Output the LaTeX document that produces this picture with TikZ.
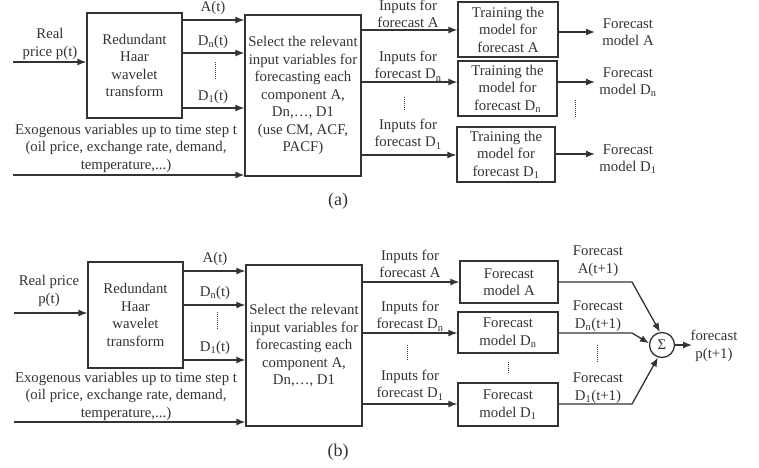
\documentclass[tikz,border=0pt]{standalone}
\usepackage{fontspec}
\setmainfont{Liberation Serif}
\usetikzlibrary{arrows.meta}
\definecolor{ink}{HTML}{333333}
\newcommand{\myfont}{\fontsize{14.8}{17.5}\selectfont}
\newcommand{\lowsub}[1]{\textsubscript{#1}}
\begin{document}
\begin{tikzpicture}[x=1pt,y=-1pt,
  conn/.style={draw=ink, line width=1.3pt},
  arr/.style={conn, -{Latex[length=9pt,width=7pt]}},
  box/.style={draw=ink, line width=1.3pt, align=center, inner sep=0pt, text=ink, font=\myfont},
  lbl/.style={align=center, inner sep=0pt, text=ink, font=\myfont},
  captext/.style={inner sep=0pt, text=ink, font=\fontsize{18}{21}\selectfont},
  vdots/.style={draw=ink, line width=1pt, dash pattern=on 1pt off 1pt}]
\useasboundingbox (0,0) rectangle (759,467);

% ================= (a) =================
\node[box, minimum width=95pt, minimum height=105pt] (haarA) at (134.5,65.5) {Redundant\\Haar\\wavelet\\transform};
\node[box, minimum width=116pt, minimum height=161pt] (selA) at (303,95.5) {Select the relevant\\input variables for\\forecasting each\\component A,\\Dn,\dots, D1\\(use CM, ACF,\\PACF)};
\node[box, minimum width=100pt, minimum height=55pt] (trA) at (508,29.5) {Training the\\model for\\forecast A};
\node[box, minimum width=99pt, minimum height=55pt] (trN) at (507.5,88.5) {Training the\\model for\\forecast D\lowsub{n}};
\node[box, minimum width=98pt, minimum height=55pt] (trO) at (506,154.5) {Training the\\model for\\forecast D\lowsub{1}};

\coordinate (inRa) at (13,62);
\coordinate (inEa) at (13,175);
\coordinate (yAa) at (0,20);
\coordinate (yNa) at (0,53);
\coordinate (yOa) at (0,108);
\coordinate (oAa) at (0,30);
\coordinate (oNa) at (0,82);
\coordinate (oOa) at (0,155);
\coordinate (fAa) at (595,32);
\coordinate (fNa) at (595,82);
\coordinate (fOa) at (595,154);

\node[lbl] (realA) at (50,44) {Real\\price p(t)};
\draw[arr] (inRa) -- (haarA.west |- inRa);
\node[lbl] (atA) at (213,8) {A(t)};
\node[lbl] (dnA) at (213,42) {D\lowsub{n}(t)};
\node[lbl] (d1A) at (213,97) {D\lowsub{1}(t)};
\draw[arr] (haarA.east |- yAa) -- (selA.west |- yAa);
\draw[arr] (haarA.east |- yNa) -- (selA.west |- yNa);
\draw[arr] (haarA.east |- yOa) -- (selA.west |- yOa);
\coordinate (dA1) at (215,62); \coordinate (dA2) at (215,80);
\draw[vdots] (dA1) -- (dA2);
\node[lbl] (exoA) at (126,148) {Exogenous variables up to time step t\\(oil price, exchange rate, demand,\\temperature,...)};
\draw[arr] (inEa) -- (selA.west |- inEa);

\node[lbl] (inpAa) at (408,14) {Inputs for\\forecast A};
\node[lbl] (inpNa) at (408,66) {Inputs for\\forecast D\lowsub{n}};
\node[lbl] (inpOa) at (408,134) {Inputs for\\forecast D\lowsub{1}};
\draw[arr] (selA.east |- oAa) -- (trA.west |- oAa);
\draw[arr] (selA.east |- oNa) -- (trN.west |- oNa);
\draw[arr] (selA.east |- oOa) -- (trO.west |- oOa);
\coordinate (dB1) at (404,97); \coordinate (dB2) at (404,110);
\draw[vdots] (dB1) -- (dB2);

\draw[arr] (trA.east |- fAa) -- (fAa);
\draw[arr] (trN.east |- fNa) -- (fNa);
\draw[arr] (trO.east |- fOa) -- (fOa);
\node[lbl] (fmA) at (628,32) {Forecast\\model A};
\node[lbl] (fmN) at (628,82) {Forecast\\model D\lowsub{n}};
\node[lbl] (fmO) at (628,159) {Forecast\\model D\lowsub{1}};
\coordinate (dC1) at (575,100); \coordinate (dC2) at (575,118);
\draw[vdots] (dC1) -- (dC2);

\node[captext] (capA) at (338,201) {(a)};

% ================= (b) =================
\node[box, minimum width=95pt, minimum height=106pt] (haarB) at (135.5,315) {Redundant\\Haar\\wavelet\\transform};
\node[box, minimum width=116pt, minimum height=161pt] (selB) at (304,345.5) {Select the relevant\\input variables for\\forecasting each\\component A,\\Dn,\dots, D1};
\node[box, minimum width=98pt, minimum height=42pt] (mA) at (509,282) {Forecast\\model A};
\node[box, minimum width=100pt, minimum height=41pt] (mN) at (508,332.5) {Forecast\\model D\lowsub{n}};
\node[box, minimum width=100pt, minimum height=43pt] (mO) at (508,404.5) {Forecast\\model D\lowsub{1}};
\node[draw=ink, line width=1.3pt, circle, minimum size=25pt, inner sep=0pt, text=ink, font=\myfont] (sum) at (662,345) {Σ};

\coordinate (inRb) at (14,313);
\coordinate (inEb) at (14,422);
\coordinate (yAb) at (0,271);
\coordinate (yNb) at (0,305);
\coordinate (yOb) at (0,360);
\coordinate (oAb) at (0,282);
\coordinate (oNb) at (0,333);
\coordinate (oOb) at (0,404);
\coordinate (kA) at (632,282);
\coordinate (kN) at (632,333);
\coordinate (kO) at (632,404);
\coordinate (outB) at (692,345);

\node[lbl] (realB) at (49,291) {Real price\\p(t)};
\draw[arr] (inRb) -- (haarB.west |- inRb);
\node[lbl] (atB) at (215,259) {A(t)};
\node[lbl] (dnB) at (215,293) {D\lowsub{n}(t)};
\node[lbl] (d1B) at (215,348) {D\lowsub{1}(t)};
\draw[arr] (haarB.east |- yAb) -- (selB.west |- yAb);
\draw[arr] (haarB.east |- yNb) -- (selB.west |- yNb);
\draw[arr] (haarB.east |- yOb) -- (selB.west |- yOb);
\coordinate (dD1) at (217,312); \coordinate (dD2) at (217,330);
\draw[vdots] (dD1) -- (dD2);
\node[lbl] (exoB) at (126,396) {Exogenous variables up to time step t\\(oil price, exchange rate, demand,\\temperature,...)};
\draw[arr] (inEb) -- (selB.west |- inEb);

\node[lbl] (inpAb) at (410,264) {Inputs for\\forecast A};
\node[lbl] (inpNb) at (410,316) {Inputs for\\forecast D\lowsub{n}};
\node[lbl] (inpOb) at (410,385) {Inputs for\\forecast D\lowsub{1}};
\draw[arr] (selB.east |- oAb) -- (mA.west |- oAb);
\draw[arr] (selB.east |- oNb) -- (mN.west |- oNb);
\draw[arr] (selB.east |- oOb) -- (mO.west |- oOb);
\coordinate (dE1) at (407,345); \coordinate (dE2) at (407,360);
\draw[vdots] (dE1) -- (dE2);
\coordinate (dF1) at (508,362); \coordinate (dF2) at (508,373);
\draw[vdots] (dF1) -- (dF2);

\draw[arr] (mA.east |- kA) -- (kA) -- (sum.99);
\draw[arr] (mN.east |- kN) -- (kN) -- (sum.172);
\draw[arr] (mO.east |- kO) -- (kO) -- (sum.252);
\draw[arr] (sum.east) -- (outB);
\node[lbl] (fcA) at (598,261) {Forecast\\A(t+1)};
\node[lbl] (fcN) at (598,316) {Forecast\\D\lowsub{n}(t+1)};
\node[lbl] (fcO) at (598,388) {Forecast\\D\lowsub{1}(t+1)};
\coordinate (dG1) at (597,345); \coordinate (dG2) at (597,363);
\draw[vdots] (dG1) -- (dG2);
\node[lbl] (fcP) at (714,346) {forecast\\p(t+1)};

\node[captext] (capB) at (338,452) {(b)};
\end{tikzpicture}
\end{document}
